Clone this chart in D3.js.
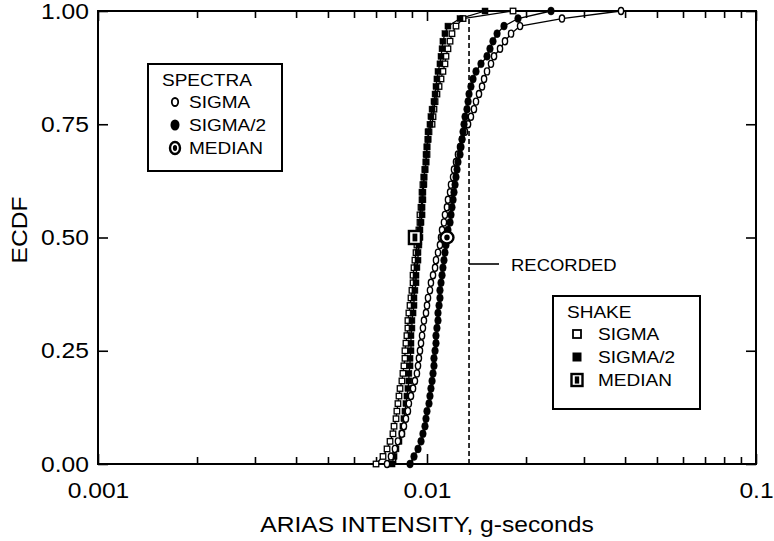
<!DOCTYPE html>
<html>
<head>
<meta charset="utf-8">
<script src="https://cdn.jsdelivr.net/npm/d3@7"></script>
<style>
  body { margin: 0; background: #fff; }
  svg text { font-family: "Liberation Sans", Arial, Helvetica, sans-serif; fill: #000; }
</style>
</head>
<body>
<div id="chart"></div>
<script>
// ECDF of Arias intensity: spectra-matched vs shake-based motions
// values are in g-seconds, sorted, one per realisation

const spectraSigma = [0.00756, 0.00777, 0.00799, 0.00816, 0.00839, 0.00851, 0.00863, 0.00875, 0.00881, 0.00894,
  0.00907, 0.00919, 0.00932, 0.00939, 0.00945, 0.00952, 0.00959, 0.00966, 0.00972, 0.00979,
  0.00993, 0.01000, 0.01007, 0.01021, 0.01028, 0.01043, 0.01058, 0.01065, 0.01080, 0.01095,
  0.01103, 0.01111, 0.01126, 0.01134, 0.01150, 0.01158, 0.01175, 0.01183, 0.01200, 0.01208,
  0.01225, 0.01242, 0.01260, 0.01278, 0.01305, 0.01333, 0.01360, 0.01389, 0.01409, 0.01439,
  0.01470, 0.01491, 0.01522, 0.01565, 0.01599, 0.01667, 0.01726, 0.01801, 0.01918, 0.02572, 0.03888];

const spectraSigmaHalf = [0.00888, 0.00913, 0.00939, 0.00959, 0.00972, 0.00986, 0.00993, 0.01000, 0.01014, 0.01021,
  0.01028, 0.01036, 0.01043, 0.01050, 0.01050, 0.01058, 0.01065, 0.01065, 0.01072, 0.01080,
  0.01080, 0.01088, 0.01095, 0.01095, 0.01103, 0.01111, 0.01118, 0.01126, 0.01134, 0.01142,
  0.01150, 0.01158, 0.01175, 0.01183, 0.01191, 0.01200, 0.01208, 0.01217, 0.01225, 0.01234,
  0.01242, 0.01260, 0.01269, 0.01278, 0.01287, 0.01296, 0.01305, 0.01323, 0.01333, 0.01342,
  0.01360, 0.01380, 0.01409, 0.01459, 0.01522, 0.01554, 0.01587, 0.01633, 0.01714, 0.01891, 0.02382];

const shakeSigma = [0.00700, 0.00735, 0.00756, 0.00772, 0.00788, 0.00794, 0.00805, 0.00810, 0.00816, 0.00822,
  0.00828, 0.00839, 0.00845, 0.00851, 0.00857, 0.00857, 0.00863, 0.00869, 0.00875, 0.00875,
  0.00881, 0.00888, 0.00894, 0.00900, 0.00907, 0.00907, 0.00913, 0.00919, 0.00926, 0.00932,
  0.00939, 0.00945, 0.00952, 0.00952, 0.00959, 0.00966, 0.00966, 0.00972, 0.00979, 0.00986,
  0.00993, 0.01000, 0.01000, 0.01007, 0.01014, 0.01036, 0.01043, 0.01050, 0.01058, 0.01072,
  0.01088, 0.01103, 0.01118, 0.01134, 0.01142, 0.01158, 0.01175, 0.01191, 0.01225, 0.01287, 0.01826];

const shakeSigmaHalf = [0.00783, 0.00794, 0.00805, 0.00822, 0.00839, 0.00845, 0.00851, 0.00857, 0.00863, 0.00869,
  0.00875, 0.00881, 0.00881, 0.00888, 0.00888, 0.00894, 0.00894, 0.00894, 0.00900, 0.00900,
  0.00907, 0.00913, 0.00913, 0.00919, 0.00926, 0.00926, 0.00932, 0.00939, 0.00939, 0.00945,
  0.00952, 0.00952, 0.00959, 0.00966, 0.00966, 0.00972, 0.00972, 0.00979, 0.00979, 0.00986,
  0.00993, 0.00993, 0.01000, 0.01007, 0.01007, 0.01021, 0.01028, 0.01036, 0.01050, 0.01058,
  0.01065, 0.01072, 0.01080, 0.01095, 0.01103, 0.01111, 0.01118, 0.01134, 0.01158, 0.01260, 0.01501];

// median motions, plotted at ECDF = 0.5
const spectraMedian = 0.01150;
const shakeMedian = 0.00919;
const recorded = 0.01342;

const xTickValues = [0.001, 0.01, 0.1];
const xTickLabels = ["0.001", "0.01", "0.1"];
const yTickValues = [0, 0.25, 0.5, 0.75, 1];
const yTickLabels = ["0.00", "0.25", "0.50", "0.75", "1.00"];

const W = 774, H = 541;
const plotL = 98, plotR = 756, plotT = 11, plotB = 464;
const stretch = 1.12;   // the original lettering is a bit wider than Arial

const svg = d3.select("#chart").append("svg")
  .attr("width", W).attr("height", H);

const x = d3.scaleLog().domain([0.001, 0.1]).range([plotL, plotR]);
const y = d3.scaleLinear().domain([0, 1]).range([plotB, plotT]);

const xMinor = x.ticks().filter(d => !xTickValues.some(m => Math.abs(m - d) < 1e-9));

function label(parent, tx, ty, str, size, anchor, rot) {
  return parent.append("text")
    .attr("transform", `translate(${tx},${ty})` + (rot ? ` rotate(${rot})` : "") + ` scale(${stretch},1)`)
    .attr("font-size", size)
    .attr("text-anchor", anchor || "start")
    .text(str);
}

// axes (ticks point inward on all four sides)
svg.append("g")
  .attr("transform", `translate(0,${plotB})`)
  .call(d3.axisBottom(x).tickValues(xTickValues).tickSizeInner(-10).tickSizeOuter(0)
    .tickPadding(18).tickFormat((d, i) => xTickLabels[i]))
  .call(g => g.select(".domain").remove())
  .call(g => g.selectAll("text").attr("font-size", 22).attr("transform", `scale(${stretch},1)`));

svg.append("g")
  .attr("transform", `translate(0,${plotB})`)
  .call(d3.axisBottom(x).tickValues(xMinor).tickSizeInner(-7).tickSizeOuter(0).tickFormat(""))
  .call(g => g.select(".domain").remove());

svg.append("g")
  .attr("transform", `translate(0,${plotT})`)
  .call(d3.axisTop(x).tickValues(xTickValues).tickSizeInner(-10).tickSizeOuter(0).tickFormat(""))
  .call(g => g.select(".domain").remove());

svg.append("g")
  .attr("transform", `translate(0,${plotT})`)
  .call(d3.axisTop(x).tickValues(xMinor).tickSizeInner(-7).tickSizeOuter(0).tickFormat(""))
  .call(g => g.select(".domain").remove());

svg.append("g")
  .attr("transform", `translate(${plotL},0)`)
  .call(d3.axisLeft(y).tickValues(yTickValues).tickSizeInner(-10).tickSizeOuter(0)
    .tickPadding(9).tickFormat((d, i) => yTickLabels[i]))
  .call(g => g.select(".domain").remove())
  .call(g => g.selectAll("text").attr("font-size", 22).attr("x", -9 / stretch)
    .attr("transform", `scale(${stretch},1)`));

svg.append("g")
  .attr("transform", `translate(${plotR},0)`)
  .call(d3.axisRight(y).tickValues(yTickValues).tickSizeInner(-10).tickSizeOuter(0).tickFormat(""))
  .call(g => g.select(".domain").remove());

svg.selectAll(".tick line").attr("stroke", "#000").attr("stroke-width", 1.6);

svg.append("rect")
  .attr("x", plotL).attr("y", plotT)
  .attr("width", plotR - plotL).attr("height", plotB - plotT)
  .attr("fill", "none").attr("stroke", "#000").attr("stroke-width", 2);

label(svg, 427, 532, "ARIAS INTENSITY, g-seconds", 22, "middle");
label(svg, 27, 230, "ECDF", 22, "middle", -90);

// recorded motion
svg.append("line")
  .attr("x1", x(recorded)).attr("x2", x(recorded))
  .attr("y1", y(0)).attr("y2", y(0.99))
  .attr("stroke", "#000").attr("stroke-width", 1.6).attr("stroke-dasharray", "5,3");

svg.append("line")
  .attr("x1", x(recorded)).attr("x2", x(recorded) + 30)
  .attr("y1", 264).attr("y2", 264)
  .attr("stroke", "#000").attr("stroke-width", 1.6);

label(svg, x(recorded) + 42, 271, "RECORDED", 16.5);

// ECDF points
const ecdf = vals => vals.map((v, i) => ({ v: v, p: i / (vals.length - 1) }));

const line = d3.line().x(d => x(d.v)).y(d => y(d.p));

const series = [
  { name: "shakeSigma", data: ecdf(shakeSigma), shape: "square", filled: false },
  { name: "shakeSigmaHalf", data: ecdf(shakeSigmaHalf), shape: "square", filled: true },
  { name: "spectraSigma", data: ecdf(spectraSigma), shape: "circle", filled: false },
  { name: "spectraSigmaHalf", data: ecdf(spectraSigmaHalf), shape: "circle", filled: true }
];

series.forEach(s => {
  svg.append("path")
    .datum(s.data)
    .attr("d", line)
    .attr("fill", "none").attr("stroke", "#000").attr("stroke-width", 1.3);
});

series.forEach(s => {
  const g = svg.append("g");
  if (s.shape === "circle") {
    g.selectAll("ellipse").data(s.data).enter().append("ellipse")
      .attr("cx", d => x(d.v)).attr("cy", d => y(d.p))
      .attr("rx", s.filled ? 3.3 : 2.6).attr("ry", s.filled ? 4 : 3.5)
      .attr("fill", s.filled ? "#000" : "#fff")
      .attr("stroke", "#000").attr("stroke-width", s.filled ? 0.5 : 1.4);
  } else {
    const sz = s.filled ? 6 : 5.5;
    g.selectAll("rect").data(s.data).enter().append("rect")
      .attr("x", d => x(d.v) - sz / 2).attr("y", d => y(d.p) - sz / 2)
      .attr("width", sz).attr("height", sz)
      .attr("fill", s.filled ? "#000" : "#fff")
      .attr("stroke", "#000").attr("stroke-width", s.filled ? 0.5 : 1.3);
  }
});

// median markers
function circleMedian(g, cx, cy, rx, ry) {
  g.append("ellipse").attr("cx", cx).attr("cy", cy).attr("rx", rx).attr("ry", ry)
    .attr("fill", "#fff").attr("stroke", "#000").attr("stroke-width", 2.4);
  g.append("ellipse").attr("cx", cx).attr("cy", cy).attr("rx", rx * 0.42).attr("ry", ry * 0.48)
    .attr("fill", "#000");
}
function squareMedian(g, cx, cy, w, h) {
  g.append("rect").attr("x", cx - w / 2).attr("y", cy - h / 2).attr("width", w).attr("height", h)
    .attr("fill", "#fff").attr("stroke", "#000").attr("stroke-width", 2.4);
  g.append("rect").attr("x", cx - w * 0.2).attr("y", cy - h * 0.3).attr("width", w * 0.4).attr("height", h * 0.6)
    .attr("fill", "#000");
}

circleMedian(svg, x(spectraMedian), y(0.5), 6.5, 6);
squareMedian(svg, x(shakeMedian), y(0.5), 12, 13);

// legends
function legend(x0, y0, w, h, title, items, textX, markX) {
  const g = svg.append("g");
  g.append("rect").attr("x", x0).attr("y", y0).attr("width", w).attr("height", h)
    .attr("fill", "#fff").attr("stroke", "#000").attr("stroke-width", 2);
  label(g, x0 + 14, y0 + 22, title, 17);
  items.forEach((it, i) => {
    const cy = y0 + 38 + i * 23;
    it.draw(g, x0 + markX, cy);
    label(g, x0 + textX, cy + 6, it.label, 17);
  });
}

legend(148, 64, 134, 107, "SPECTRA", [
  { label: "SIGMA", draw: (g, cx, cy) => g.append("ellipse").attr("cx", cx).attr("cy", cy)
      .attr("rx", 3.2).attr("ry", 4).attr("fill", "#fff").attr("stroke", "#000").attr("stroke-width", 1.8) },
  { label: "SIGMA/2", draw: (g, cx, cy) => g.append("ellipse").attr("cx", cx).attr("cy", cy)
      .attr("rx", 4.5).attr("ry", 5.5).attr("fill", "#000") },
  { label: "MEDIAN", draw: (g, cx, cy) => circleMedian(g, cx, cy, 5, 6) }
], 41, 27);

legend(553, 296, 147, 113, "SHAKE", [
  { label: "SIGMA", draw: (g, cx, cy) => g.append("rect").attr("x", cx - 4).attr("y", cy - 4)
      .attr("width", 8).attr("height", 8).attr("fill", "#fff").attr("stroke", "#000").attr("stroke-width", 1.8) },
  { label: "SIGMA/2", draw: (g, cx, cy) => g.append("rect").attr("x", cx - 4.5).attr("y", cy - 4.5)
      .attr("width", 9).attr("height", 9).attr("fill", "#000") },
  { label: "MEDIAN", draw: (g, cx, cy) => squareMedian(g, cx, cy, 11, 12) }
], 45, 24);
</script>
</body>
</html>
